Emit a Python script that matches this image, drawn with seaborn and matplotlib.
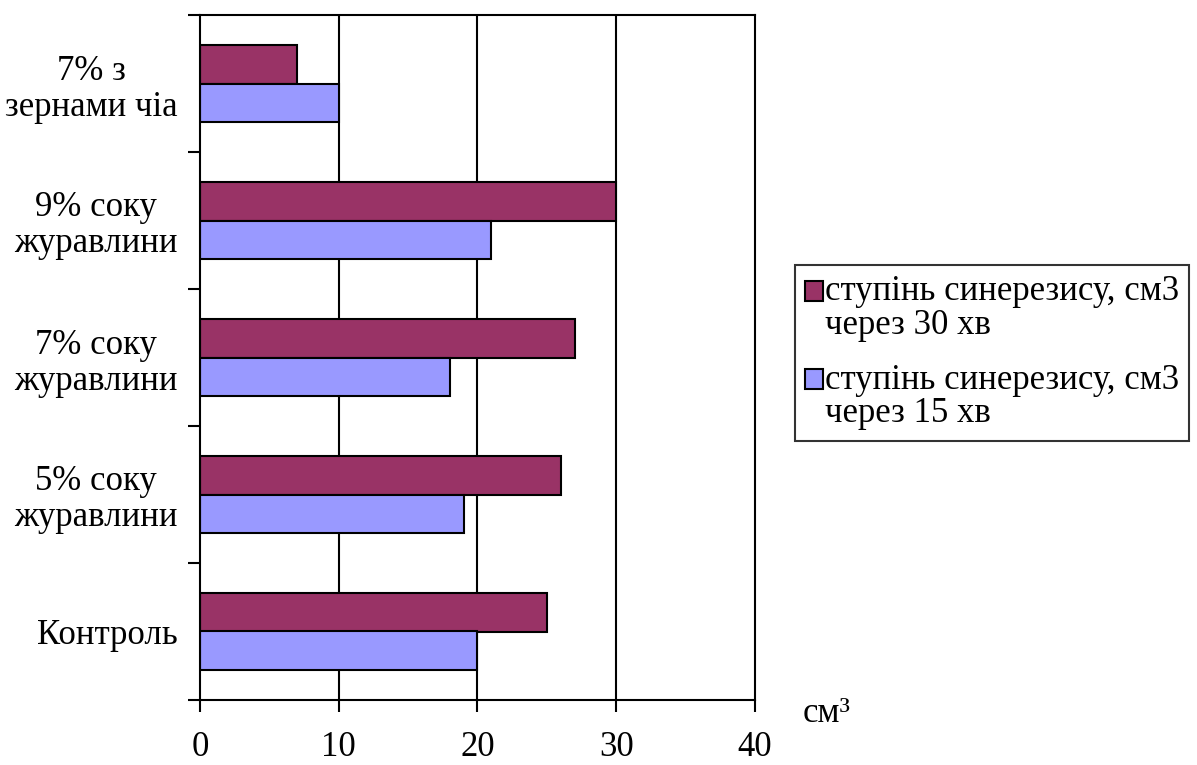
import pandas as pd
import numpy as np
import matplotlib.pyplot as plt
import seaborn as sns
from matplotlib.patches import Rectangle
from matplotlib.legend_handler import HandlerPatch

# categories (top to bottom) and series values, cm3
categories = ['7% з\nзернами чіа', '9% соку\nжуравлини', '7% соку\nжуравлини',
              '5% соку\nжуравлини', 'Контроль']
syneresis_30 = [7, 30, 27, 26, 25]
syneresis_15 = [10, 21, 18, 19, 20]
series_names = ['ступінь синерезису, см3\nчерез 30 хв',
                'ступінь синерезису, см3\nчерез 15 хв']
x_ticks = [0, 10, 20, 30, 40]

df = pd.DataFrame({
    'category': categories * 2,
    'value': syneresis_30 + syneresis_15,
    'series': [series_names[0]] * len(categories) + [series_names[1]] * len(categories),
})

sns.set_style('white')
plt.rcParams['font.family'] = ['Liberation Serif', 'DejaVu Serif']
plt.rcParams['text.color'] = 'black'
plt.rcParams['xtick.color'] = 'black'
plt.rcParams['ytick.color'] = 'black'

FS = 25

fig = plt.figure(figsize=(11.97, 7.65), dpi=100)
ax = fig.add_axes([200/1197, 1 - 700/765, 555/1197, 685/765])

sns.barplot(data=df, y='category', x='value', hue='series', order=categories,
            hue_order=series_names, palette=['#993366', '#9999FF'], saturation=1,
            orient='h', width=0.56, gap=0, edgecolor='black', linewidth=1.5,
            errorbar=None, ax=ax, legend=True)

ax.set_xlim(0, 40)
ax.set_ylim(len(categories) - 0.5, -0.5)
ax.set_xticks(x_ticks)
ax.set_xticklabels([str(t) for t in x_ticks], fontsize=FS)
ax.tick_params(axis='x', bottom=True, direction='out', length=8.6, width=1.5, pad=14)
ax.tick_params(axis='y', which='major', left=True, length=0, pad=16, labelsize=FS)
for lab in ax.get_yticklabels():
    lab.set_multialignment('center')
    lab.set_linespacing(1.12)
ax.set_yticks(np.arange(-0.5, len(categories)), minor=True)
ax.tick_params(axis='y', which='minor', left=True, direction='out', length=8.6, width=1.5)

ax.set_axisbelow(True)
for t in x_ticks[1:-1]:
    ax.axvline(t, color='black', lw=1.5, zorder=0)
for s in ax.spines.values():
    s.set_visible(True)
    s.set_color('black')
    s.set_linewidth(1.5)

ax.set_xlabel('')
ax.set_ylabel('')
ax.text(1.085, -0.02, 'см³', transform=ax.transAxes, fontsize=FS, va='center', ha='left')


# legend square sits next to the first line of each two-line label
def top_square(legend, orig_handle, xdescent, ydescent, width, height, fontsize):
    return Rectangle((-xdescent, -ydescent + 0.52 * fontsize), width, height)


handles, labels = ax.get_legend_handles_labels()
ax.get_legend().remove()
leg = fig.legend(handles, labels, loc='upper left', bbox_to_anchor=(795/1197, 1 - 265/765),
                 fontsize=FS, frameon=True, fancybox=False, edgecolor='black',
                 handlelength=0.5, handleheight=0.5, handletextpad=0.05,
                 borderpad=0.3, labelspacing=0.62, borderaxespad=0,
                 handler_map={h: HandlerPatch(patch_func=top_square) for h in handles})
leg.get_frame().set_linewidth(1.5)
for t in leg.get_texts():
    t.set_linespacing(1.03)

fig.savefig('out.png', dpi=100)
